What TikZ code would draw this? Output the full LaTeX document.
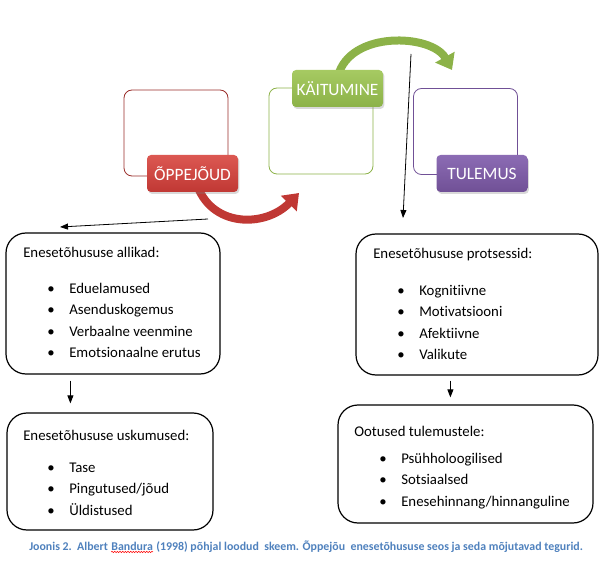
\documentclass[tikz,border=0pt]{standalone}
\usepackage{fontspec}
\setmainfont{Carlito}[Ligatures=NoCommon]
\usetikzlibrary{arrows.meta, positioning, shadows, calc, decorations.pathmorphing}
\definecolor{teacher}{RGB}{192, 56, 52}
\definecolor{teacherlt}{RGB}{220, 88, 82}
\definecolor{behave}{RGB}{140, 178, 72}
\definecolor{behavelt}{RGB}{166, 202, 98}
\definecolor{outcome}{RGB}{112, 80, 150}
\definecolor{outcomelt}{RGB}{140, 108, 180}
\definecolor{capblue}{RGB}{79, 129, 189}
\newlength{\pxu}\setlength{\pxu}{0.75pt}
\newcommand{\blt}{\makebox[16.5pt][l]{\textbullet}}

\begin{document}
\begin{tikzpicture}[x=0.75pt, y=-0.75pt,
    frame/.style={rectangle, rounded corners=6pt, draw, line width=0.6pt, fill=white,
                  minimum width=104\pxu, minimum height=86\pxu},
    tag/.style={rectangle, rounded corners=3pt, minimum width=91\pxu, minimum height=37\pxu,
                text=white, font=\fontsize{13}{15}\selectfont,
                drop shadow={opacity=0.3, shadow xshift=1pt, shadow yshift=-1.5pt}},
    listbox/.style={rectangle, rounded corners=15pt, draw, line width=0.9pt},
    title/.style={anchor=west, inner sep=0pt, font=\fontsize{11.1}{12}\selectfont},
    items/.style={anchor=west, inner sep=0pt, align=left, font=\fontsize{11.1}{16}\selectfont},
    pointer/.style={-{Triangle[length=6pt, width=4.5pt]}, line width=0.6pt},
    swoop/.style={line width=6pt, -{Triangle[length=11pt, width=16pt]}},
    caption/.style={inner sep=0pt, anchor=base west, text=capblue, font=\bfseries\fontsize{8.9}{10}\selectfont}]
    \useasboundingbox (0,0) rectangle (599,573);

    % Frames behind the tags
    \node[frame, draw=teacher!80!black] (oppframe) at (176,133) {};
    \node[frame, draw=behave] (kaitframe) at (321,131) {};
    \node[frame, draw=outcome] (tulframe) at (465.5,131.5) {};

    % Curved arrows
    \coordinate (oppout) at (196,182);
    \coordinate (oppin) at (299,193);
    \coordinate (kaitout) at (338,76);
    \coordinate (kaitin) at (452,70);
    \draw[swoop, teacher] (oppout) .. controls (210,228) and (265,228) .. (oppin);
    \draw[swoop, behave] (kaitout) .. controls (350,30) and (432,34) .. (kaitin);

    % Tags
    \node[tag, top color=teacherlt, bottom color=teacher] (opp) at (192.5,173.5) {ÕPPEJÕUD};
    \node[tag, top color=behavelt, bottom color=behave] (kait) at (337.5,88.5) {KÄITUMINE};
    \node[tag, top color=outcomelt, bottom color=outcome] (tul) at (482,173.5) {TULEMUS};

    % Thin arrows from the top row
    \coordinate (srcL) at (208,219);
    \coordinate (dstL) at (60,227);
    \coordinate (srcR) at (411,54);
    \coordinate (dstR) at (403,218);
    \draw[pointer] (srcL) -- (dstL);
    \draw[pointer] (srcR) -- (dstR);

    % Boxes
    \node[listbox, minimum width=214\pxu, minimum height=141\pxu] (allikad) at (113,303.5) {};
    \node[listbox, minimum width=242\pxu, minimum height=141\pxu] (protsessid) at (477,304.5) {};
    \node[listbox, minimum width=206\pxu, minimum height=117\pxu] (uskumused) at (110,471.5) {};
    \node[listbox, minimum width=255\pxu, minimum height=118\pxu] (ootused) at (465.5,464) {};

    \node[title] at (23,252) {Enesetõhususe allikad:};
    \node[items] at (47,320.5) {\blt Eduelamused\\ \blt Asenduskogemus\\ \blt Verbaalne veenmine\\ \blt Emotsionaalne erutus};
    \node[title] at (373,255) {Enesetõhususe protsessid:};
    \node[items] at (397,322.5) {\blt Kognitiivne\\ \blt Motivatsiooni\\ \blt Afektiivne\\ \blt Valikute};
    \node[title] at (23,435) {Enesetõhususe uskumused:};
    \node[items] at (47,489) {\blt Tase\\ \blt Pingutused/jõud\\ \blt Üldistused};
    \node[title] at (354,431) {Ootused tulemustele:};
    \node[items] at (379,481) {\blt Psühholoogilised\\ \blt Sotsiaalsed\\ \blt Enesehinnang/hinnanguline};

    \draw[pointer] ($(allikad.south west)+(65,6)$) -- ($(uskumused.north west)+(64,-9)$);
    \draw[pointer] ($(protsessid.south west)+(95,5)$) -- ($(ootused.north west)+(113,-7)$);

    % Caption
    \node[caption] (cap1) at (29,550) {Joonis 2.\ \ Albert};
    \node[caption] (bandura) at ([xshift=2.2pt]cap1.base east) {Bandura};
    \node[caption] (cap2) at ([xshift=2.2pt]bandura.base east) {(1998) põhjal loodud\ \ skeem. Õppejõu\ \ enesetõhususe seos ja seda mõjutavad tegurid.};
    \draw[red, decorate, decoration={snake, amplitude=0.5pt, segment length=2pt}] ([yshift=-1.2pt]bandura.south west) -- ([yshift=-1.2pt]bandura.south east);
\end{tikzpicture}
\end{document}
